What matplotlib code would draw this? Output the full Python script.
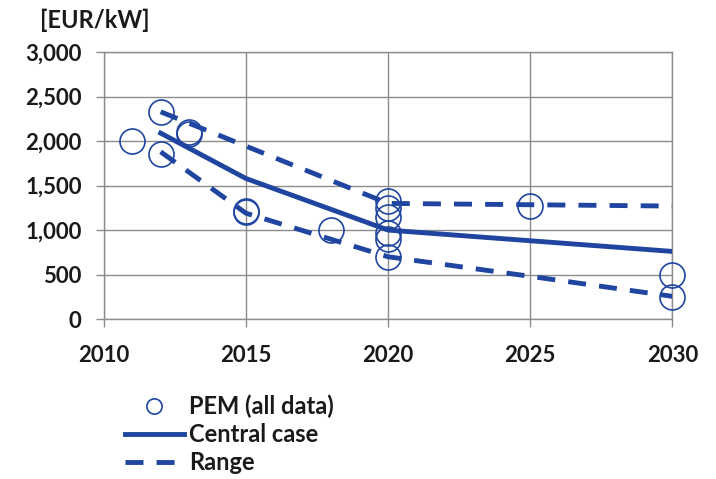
import matplotlib.pyplot as plt
from matplotlib.lines import Line2D

plt.rcParams['font.family'] = ['Lato', 'DejaVu Sans']

# PEM data points
pem_years = [2011, 2012, 2012, 2013, 2013, 2015, 2015, 2018,
             2020, 2020, 2020, 2020, 2020, 2020, 2025, 2030, 2030]
pem_costs = [2000, 2330, 1860, 2080, 2100, 1200, 1210, 1000,
             1330, 1250, 1150, 970, 900, 700, 1270, 500, 250]

# central case and range
line_years = [2012, 2015, 2020, 2025, 2030]
central = [2090, 1580, 1000, 880, 760]
upper_years = [2012, 2020, 2025, 2030]
upper = [2330, 1300, 1285, 1270]
lower = [1880, 1190, 700, 480, 255]

blue = '#1F45A0'
grey = '#8c8c8c'
txt = '#1a1a1a'
dash = (3.7, 2.7)

fig = plt.figure(figsize=(7.16, 4.79), dpi=100)
ax = fig.add_axes([0.145, 0.334, 0.794, 0.557])

ax.plot(pem_years, pem_costs, 'o', mfc='none', mec=blue, mew=1.2, ms=18,
        zorder=3, clip_on=False)
ax.plot(line_years, central, '-', color=blue, lw=3.5, zorder=4)
ax.plot(upper_years, upper, '--', color=blue, lw=3.5, dashes=dash, zorder=4)
ax.plot(line_years, lower, '--', color=blue, lw=3.5, dashes=dash, zorder=4)

ax.set_xlim(2010, 2030)
ax.set_ylim(0, 3000)
ax.set_xticks([2010, 2015, 2020, 2025, 2030])
ax.set_yticks(range(0, 3001, 500))
ax.set_yticklabels([f'{v:,}' for v in range(0, 3001, 500)])
ax.grid(True, color=grey, lw=1)
ax.set_axisbelow(True)
for s in ax.spines.values():
    s.set_color(grey)
    s.set_linewidth(1)
ax.tick_params(axis='both', colors=grey, length=6, width=1, labelcolor=txt,
               labelsize=16)
ax.tick_params(axis='x', pad=13)
ax.tick_params(axis='y', pad=10)
for lab in ax.get_xticklabels() + ax.get_yticklabels():
    lab.set_fontweight('bold')

fig.text(0.056, 0.957, '[EUR/kW]', fontsize=17, fontweight='bold', color=txt,
         ha='left', va='center')

handles = [
    Line2D([], [], ls='none', marker='o', mfc='none', mec=blue, mew=1.2, ms=11),
    Line2D([], [], color=blue, lw=3.5),
    Line2D([], [], color=blue, lw=3.5, ls='--', dashes=dash),
]
leg = fig.legend(handles, ['PEM (all data)', 'Central case', 'Range'],
                 loc='upper left', bbox_to_anchor=(0.158, 0.2),
                 frameon=False, handlelength=2.5, handletextpad=0.2,
                 labelspacing=0.2, borderpad=0,
                 prop={'size': 17, 'weight': 'bold'})
for t in leg.get_texts():
    t.set_color(txt)

fig.savefig('out.png', dpi=100)
